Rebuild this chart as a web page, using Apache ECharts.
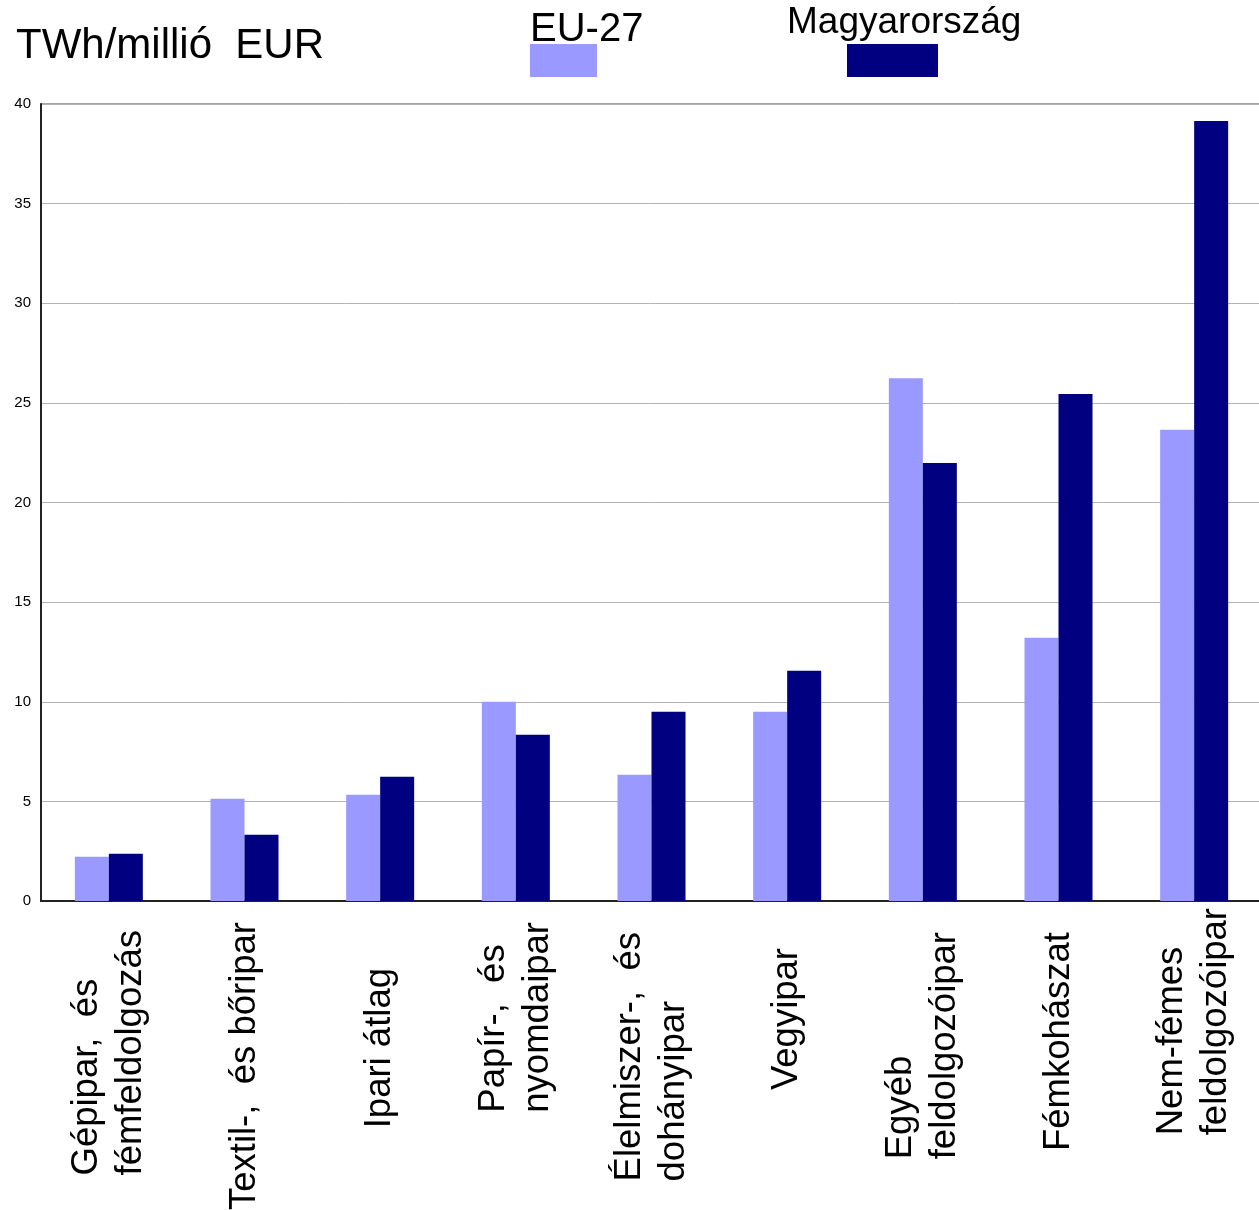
<!DOCTYPE html>
<html>
<head>
<meta charset="utf-8">
<script src="https://cdn.jsdelivr.net/npm/echarts@6/dist/echarts.min.js"></script>
<style>
html,body{margin:0;padding:0;background:#fff;}
#chart{width:1259px;height:1210px;}
</style>
</head>
<body>
<div id="chart"></div>
<script>
const categories = [
  'Gépipar,  és\nfémfeldolgozás',
  'Textil-,  és bőripar',
  'Ipari átlag',
  'Papír-,  és\nnyomdaipar',
  'Élelmiszer-,  és\ndohányipar',
  'Vegyipar',
  'Egyéb\nfeldolgozóipar',
  'Fémkohászat',
  'Nem-fémes\nfeldolgozóipar'
];
const seriesNames = ['EU-27', 'Magyarország'];
const eu27 = [2.22, 5.13, 5.33, 10.0, 6.34, 9.5, 26.24, 13.21, 23.65];
const hungary = [2.37, 3.33, 6.24, 8.34, 9.5, 11.56, 21.98, 25.45, 39.15];
const yTicks = { min: 0, max: 40, interval: 5 };
const unitTitle = 'TWh/millió  EUR';

// label offsets from axis (style only)
const labelPad = [22, 14, 60, 14, 24, 40, 24, 24, 0];

const colors = ['#9999ff', '#000080'];
const FONT = 'Liberation Sans, Arial, sans-serif';

const chart = echarts.init(document.getElementById('chart'), null, { renderer: 'canvas' });

const option = {
  backgroundColor: '#ffffff',
  animation: false,
  grid: {
    left: 41, top: 104, width: 1221, height: 797,
    outerBoundsMode: 'none', containLabel: false,
    show: true, borderColor: '#888888', borderWidth: 1.5, backgroundColor: 'transparent'
  },
  xAxis: {
    type: 'category',
    data: categories.map((c, i) => ({ value: c, textStyle: { padding: [0, labelPad[i], 0, 0] } })),
    axisLine: { show: true, lineStyle: { color: '#222', width: 2 } },
    axisTick: { show: false },
    axisLabel: {
      interval: 0,
      rotate: 90,
      margin: 7,
      hideOverlap: false,
      color: '#000',
      fontFamily: FONT,
      fontSize: 36.5,
      lineHeight: 44,
      formatter: function (v) {
        return v.split('\n').map(s => '{l|' + s + '}').join('\n');
      },
      rich: {
        l: { align: 'left', fontSize: 36.5, lineHeight: 44, fontFamily: FONT, color: '#000' }
      }
    }
  },
  yAxis: {
    type: 'value',
    min: yTicks.min, max: yTicks.max, interval: yTicks.interval,
    axisLine: { show: true, lineStyle: { color: '#222', width: 2 } },
    axisTick: { show: false },
    axisLabel: { color: '#000', fontFamily: FONT, fontSize: 15, margin: 10 },
    splitLine: { show: true, lineStyle: { color: '#b3b3b3', width: 1 } }
  },
  series: [
    { name: seriesNames[0], type: 'bar', data: eu27, barWidth: 34, barGap: '0%',
      itemStyle: { color: colors[0] } },
    { name: seriesNames[1], type: 'bar', data: hungary, barWidth: 34, barGap: '0%',
      itemStyle: { color: colors[1] } }
  ],
  graphic: [
    { type: 'text', left: 16, top: 25, style: { text: unitTitle, font: '42px ' + FONT, fill: '#000' } },
    { type: 'text', left: 530, top: 10, style: { text: seriesNames[0], font: '40px ' + FONT, fill: '#000' } },
    { type: 'rect', shape: { x: 530, y: 44, width: 67, height: 33 }, style: { fill: colors[0] } },
    { type: 'text', left: 787, top: 4, style: { text: seriesNames[1], font: '37px ' + FONT, fill: '#000' } },
    { type: 'rect', shape: { x: 847, y: 44, width: 91, height: 33 }, style: { fill: colors[1] } }
  ]
};
chart.setOption(option);
</script>
</body>
</html>
